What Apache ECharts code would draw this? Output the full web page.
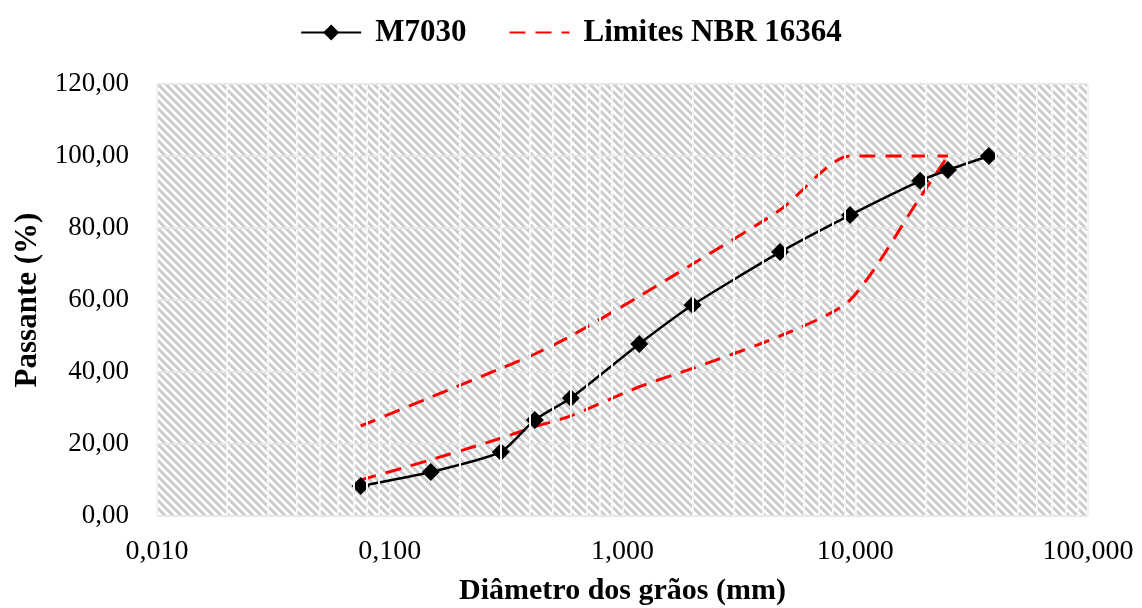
<!DOCTYPE html>
<html style="height: 100%">
<head>
    <meta charset="UTF-8">
    <script type="text/javascript" src="https://cdn.jsdelivr.net/npm/echarts@6/dist/echarts.min.js"></script>
    <style type="text/css">
        body {margin:0; padding:0; overflow:hidden; height: 100%; background: #fff}
    </style>
</head>
<body>
    <div id="container" style="width:1142px;height:608px"></div>
<script>
    // abertura das peneiras (mm) e % passante
    var peneiras = [0.075, 0.15, 0.3, 0.42, 0.6, 1.18, 2.0, 4.75, 9.5, 19, 25, 37.5];
    var m7030 = [8.3, 12.2, 17.8, 26.7, 32.8, 47.8, 58.6, 73.3, 83.6, 93.1, 96.1, 100];
    var limSupX = [0.075, 0.15, 0.3, 0.42, 0.6, 1.18, 2.0, 4.75, 9.5, 19, 25];
    var limSup = [25, 33, 41, 45, 50, 61, 70, 85, 100, 100, 100];
    var limInfX = [0.075, 0.15, 0.3, 0.42, 0.6, 1.18, 2.0, 4.75, 9.5, 19, 25];
    var limInf = [10, 15.6, 21.6, 24.8, 27.8, 35.9, 41, 50, 60, 88.5, 100];
    var decadas = [0.01, 0.1, 1, 10];

    // linhas de grade secundárias (2..9 de cada década)
    var gradeX = [];
    decadas.forEach(function (d) {
        for (var k = 2; k <= 9; k++) gradeX.push({xAxis: +(d * k).toFixed(4)});
    });

    // hachura do fundo
    var tile = document.createElement('canvas');
    tile.width = 8; tile.height = 8;
    var ctx = tile.getContext('2d');
    ctx.fillStyle = '#ffffff';
    ctx.fillRect(0, 0, 8, 8);
    for (var py = 0; py < 8; py++) {
        for (var px = 0; px < 8; px++) {
            if (((px - py) % 8 + 8) % 8 < 4) {
                ctx.fillStyle = ((px + py) % 2) ? '#c6c6c6' : '#d2d2d2';
                ctx.fillRect(px, py, 1, 1);
            }
        }
    }

    function pares(xs, ys) {
        return xs.map(function (x, i) { return [x, ys[i]]; });
    }

    var fonte = '"Liberation Serif", "Times New Roman", serif';
    var myChart = echarts.init(document.getElementById('container'));

    var option = {
        animation: false,
        textStyle: {fontFamily: fonte},
        legend: {
            top: 12,
            left: 'center',
            itemWidth: 60,
            itemHeight: 20,
            itemGap: 42,
            textStyle: {fontFamily: fonte, fontSize: 31, fontWeight: 'bold', color: '#000', padding: [0, 0, 0, 9]},
            data: [
                {name: 'M7030'},
                {name: 'Limites NBR 16364', itemStyle: {opacity: 0}}
            ]
        },
        grid: {
            left: 157,
            right: 54,
            top: 84,
            bottom: 92,
            outerBoundsMode: 'none',
            show: true,
            borderWidth: 0,
            backgroundColor: {image: tile, repeat: 'repeat'}
        },
        xAxis: {
            type: 'log',
            logBase: 10,
            min: 0.01,
            max: 100,
            name: 'Diâmetro dos grãos (mm)',
            nameLocation: 'middle',
            nameGap: 60,
            nameTextStyle: {fontFamily: fonte, fontSize: 30, fontWeight: 'bold', color: '#000'},
            axisLine: {show: false},
            axisTick: {show: false},
            axisLabel: {
                fontFamily: fonte, fontSize: 28, color: '#000', margin: 22,
                formatter: function (v) { return v.toFixed(3).replace('.', ','); }
            },
            splitLine: {show: true, lineStyle: {color: '#f2f2f2', width: 2}}
        },
        yAxis: {
            type: 'value',
            min: 0,
            max: 120,
            interval: 20,
            name: 'Passante (%)',
            nameLocation: 'middle',
            nameGap: 113,
            nameTextStyle: {fontFamily: fonte, fontSize: 31, fontWeight: 'bold', color: '#000'},
            axisLine: {show: false},
            axisTick: {show: false},
            axisLabel: {
                fontFamily: fonte, fontSize: 27, color: '#000', margin: 28,
                formatter: function (v) { return v.toFixed(2).replace('.', ','); }
            },
            splitLine: {show: true, lineStyle: {color: '#e6e6e6', width: 2}}
        },
        series: [
            {
                type: 'line',
                name: 'grade',
                data: [],
                silent: true,
                z: 1,
                markLine: {
                    silent: true,
                    symbol: ['none', 'none'],
                    label: {show: false},
                    lineStyle: {color: '#f4f4f4', width: 2, type: 'solid'},
                    data: gradeX
                }
            },
            {
                type: 'line',
                name: 'Limites NBR 16364',
                data: pares(limSupX, limSup),
                smooth: 0.25,
                showSymbol: false,
                symbol: 'none',
                z: 3,
                color: '#ff0000',
                lineStyle: {color: '#ff0000', width: 3, type: [16, 10]}
            },
            {
                type: 'line',
                name: 'Limites NBR 16364',
                data: pares(limInfX, limInf),
                smooth: 0.25,
                showSymbol: false,
                symbol: 'none',
                z: 3,
                color: '#ff0000',
                lineStyle: {color: '#ff0000', width: 3, type: [16, 10]}
            },
            {
                type: 'line',
                name: 'M7030',
                data: pares(peneiras, m7030),
                smooth: 0.2,
                symbol: 'diamond',
                symbolSize: 18,
                z: 4,
                color: '#000',
                itemStyle: {color: '#000'},
                lineStyle: {color: '#000', width: 2.5}
            }
        ]
    };
    myChart.setOption(option);
</script>
</body>
</html>
